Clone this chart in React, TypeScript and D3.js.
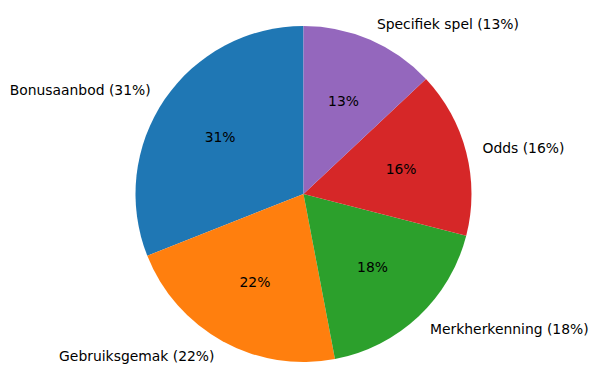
import * as d3 from "d3";

const categories = ["Bonusaanbod", "Gebruiksgemak", "Merkherkenning", "Odds", "Specifiek spel"];
const shares = [31, 22, 18, 16, 13];
const colors = ["#1f77b4", "#ff7f0e", "#2ca02c", "#d62728", "#9467bd"];

const WIDTH = 598;
const HEIGHT = 389;
const CX = 303.5;
const CY = 194;
const R = 168;
const FONT = "'DejaVu Sans', sans-serif";

export default function App() {
  const total = d3.sum(shares);
  // matplotlib style: start at the top, go counterclockwise
  const angle = d3.scaleLinear().domain([0, total]).range([Math.PI / 2, Math.PI / 2 + 2 * Math.PI]);
  const cum = d3.cumsum(shares);

  const slices = shares.map((v, i) => {
    const a0 = angle(cum[i] - v);
    const a1 = angle(cum[i]);
    return { v, i, a0, a1, mid: (a0 + a1) / 2 };
  });

  const pt = (a: number, r: number) => [CX + r * Math.cos(a), CY - r * Math.sin(a)];

  const wedge = (a0: number, a1: number) => {
    const p = d3.path();
    p.moveTo(CX, CY);
    // svg y is flipped, so counterclockwise in math = anticlockwise flag with negated angles
    p.arc(CX, CY, R, -a0, -a1, true);
    p.closePath();
    return p.toString();
  };

  return (
    <svg width={WIDTH} height={HEIGHT} style={{ position: "absolute", left: 0, top: 0 }}>
      <rect width={WIDTH} height={HEIGHT} fill="#ffffff" />
      {slices.map((s) => (
        <path key={`w${s.i}`} d={wedge(s.a0, s.a1)} fill={colors[s.i]} />
      ))}
      {slices.map((s) => {
        const [lx, ly] = pt(s.mid, R * 1.1);
        const [px, py] = pt(s.mid, R * 0.6);
        return (
          <g key={`t${s.i}`} fontFamily={FONT} fontSize={13.9} fill="#000">
            <text x={lx} y={ly} dominantBaseline="central" textAnchor={Math.cos(s.mid) < 0 ? "end" : "start"}>
              {`${categories[s.i]} (${s.v}%)`}
            </text>
            <text x={px} y={py} dominantBaseline="central" textAnchor="middle">
              {`${s.v}%`}
            </text>
          </g>
        );
      })}
    </svg>
  );
}
